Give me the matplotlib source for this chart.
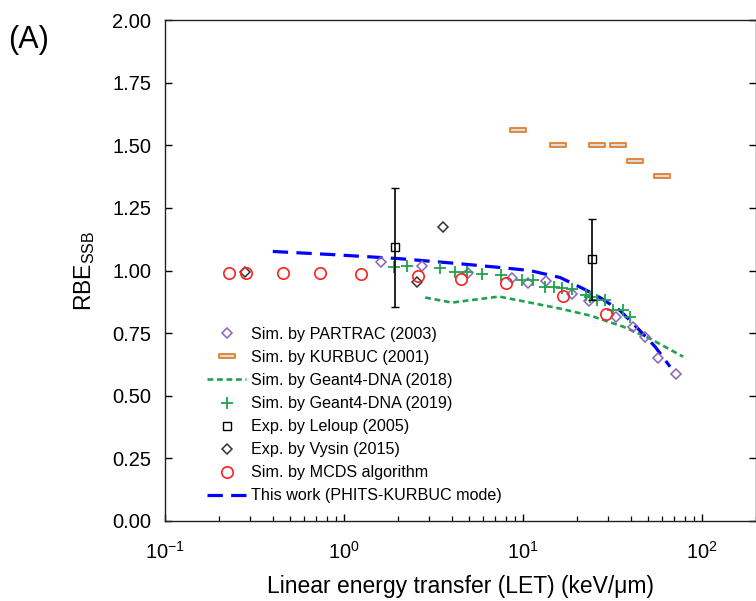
import matplotlib
matplotlib.use("Agg")
import matplotlib.pyplot as plt
from matplotlib.path import Path
from matplotlib.lines import Line2D
from matplotlib.ticker import LogLocator, FixedLocator, NullFormatter
import numpy as np

plt.rcParams['font.family'] = ['Liberation Sans', 'DejaVu Sans']
plt.rcParams['mathtext.fontset'] = 'custom'
plt.rcParams['mathtext.rm'] = 'Liberation Sans'
plt.rcParams['mathtext.it'] = 'Liberation Sans:italic'

# ---------------- data ----------------
partrac_let = [1.61, 2.73, 4.93, 8.69, 10.7, 13.4, 18.8, 23.4, 33.1, 41.2, 48.1, 56.8, 71.6]
partrac_rbe = [1.032, 1.016, 0.992, 0.972, 0.952, 0.960, 0.908, 0.880, 0.816, 0.776, 0.736, 0.652, 0.588]

kurbuc_let = [9.38, 15.7, 25.9, 34.0, 42.2, 59.8]
kurbuc_rbe = [1.56, 1.50, 1.50, 1.50, 1.436, 1.376]

g4_2018_let = [2.84, 4.01, 7.35, 10.9, 16.1, 23.7, 36.2, 51.2, 78.3]
g4_2018_rbe = [0.892, 0.872, 0.896, 0.872, 0.848, 0.820, 0.776, 0.728, 0.656]

g4_2019_let = [1.90, 2.25, 3.44, 4.17, 4.87, 5.90, 7.54, 9.87, 11.4, 13.3, 14.9, 16.5,
               18.8, 22.5, 23.7, 25.9, 28.7, 31.8, 36.2, 39.6]
g4_2019_rbe = [1.012, 1.016, 1.008, 0.996, 0.996, 0.988, 0.984, 0.964, 0.964, 0.936, 0.936, 0.932,
               0.928, 0.904, 0.896, 0.884, 0.884, 0.844, 0.844, 0.816]

leloup_let = [1.93, 24.3]
leloup_rbe = [1.092, 1.044]
leloup_err = [0.236, 0.16]

vysin_let = [0.28, 2.56, 3.57]
vysin_rbe = [0.996, 0.956, 1.172]

mcds_let = [0.228, 0.284, 0.456, 0.735, 1.245, 2.59, 4.50, 8.04, 16.7, 29.1]
mcds_rbe = [0.992, 0.992, 0.992, 0.992, 0.988, 0.980, 0.968, 0.952, 0.900, 0.828]

phits_let = [0.40, 0.835, 1.98, 4.28, 7.44, 10.9, 16.1, 21.6, 26.9, 34.8, 43.3, 54.6, 66.2]
phits_rbe = [1.076, 1.064, 1.048, 1.028, 1.012, 1.000, 0.972, 0.928, 0.892, 0.840, 0.772, 0.696, 0.616]

xticks = [0.1, 1, 10, 100]
xtick_labels = [r'$\mathregular{10^{-1}}$', r'$\mathregular{10^{0}}$',
                r'$\mathregular{10^{1}}$', r'$\mathregular{10^{2}}$']
yticks = [0.00, 0.25, 0.50, 0.75, 1.00, 1.25, 1.50, 1.75, 2.00]

# ---------------- figure ----------------
W, H = 756, 601
fig = plt.figure(figsize=(W / 100, H / 100), dpi=100)
ax = fig.add_axes([165 / W, (H - 521) / H, (756 - 165) / W, (521 - 20) / H])

purple = '#8a64b8'
orange = '#e0802c'
green = '#21a150'
red = '#ff2020'

bar = Path([(-1, -0.28), (1, -0.28), (1, 0.28), (-1, 0.28), (-1, -0.28)],
           [Path.MOVETO, Path.LINETO, Path.LINETO, Path.LINETO, Path.CLOSEPOLY])

h1, = ax.plot(partrac_let, partrac_rbe, ls='none', marker='D', ms=5.6, mfc='none',
              mec=purple, mew=1.1, label='Sim. by PARTRAC (2003)', zorder=4)
h2, = ax.plot(kurbuc_let, kurbuc_rbe, ls='none', marker=bar, ms=11.5, mfc='#dcdcdc',
              mec=orange, mew=1.3, label='Sim. by KURBUC (2001)', zorder=4)
h3, = ax.plot(g4_2018_let, g4_2018_rbe, ls=(0, (2.2, 1.4)), color=green, lw=1.9,
              label='Sim. by Geant4-DNA (2018)', zorder=3)
h4, = ax.plot(g4_2019_let, g4_2019_rbe, ls='none', marker='+', ms=8, mec=green, mew=1.3,
              label='Sim. by Geant4-DNA (2019)', zorder=4)
ax.errorbar(leloup_let, leloup_rbe, yerr=leloup_err, ls='none', marker='s', ms=5.5,
            mfc='none', mec='black', mew=1.0, ecolor='black', elinewidth=1.2,
            capsize=3, capthick=1.2, zorder=5)
h5 = Line2D([], [], ls='none', marker='s', ms=5.5, mfc='none', mec='black', mew=1.0,
            label='Exp. by Leloup (2005)')
h6, = ax.plot(vysin_let, vysin_rbe, ls='none', marker='D', ms=5.2, mfc='none',
              mec='#333333', mew=1.1, label='Exp. by Vysin (2015)', zorder=4)
h7, = ax.plot(mcds_let, mcds_rbe, ls='none', marker='o', ms=8.2, mfc='none',
              mec=red, mew=1.2, label='Sim. by MCDS algorithm', zorder=4)
h8, = ax.plot(phits_let, phits_rbe, ls=(0, (4.8, 2.6)), color='#0000ff', lw=2.3,
              label='This work (PHITS-KURBUC mode)', zorder=3)

ax.set_xscale('log')
ax.set_xlim(0.1, 200)
ax.set_ylim(0, 2.0)
ax.xaxis.set_major_locator(FixedLocator(xticks))
ax.set_xticklabels(xtick_labels)
ax.xaxis.set_minor_locator(LogLocator(base=10, subs=np.arange(2, 10), numticks=20))
ax.xaxis.set_minor_formatter(NullFormatter())
ax.set_yticks(yticks)
ax.set_yticklabels([f'{v:.2f}' for v in yticks])

ax.tick_params(axis='both', which='major', direction='in', labelsize=14.5,
               length=5, width=1, colors='black')
ax.tick_params(axis='y', right=True, pad=10)
ax.tick_params(axis='x', which='major', pad=14)
ax.tick_params(axis='x', which='minor', direction='in', length=3.5, width=0.9)
for s in ax.spines.values():
    s.set_linewidth(1.0)
    s.set_color('#222222')

ax.set_xlabel('Linear energy transfer (LET) (keV/\u03bcm)', fontsize=16.5, labelpad=9)
ax.set_ylabel(r'RBE$_\mathregular{SSB}$', fontsize=16.5, labelpad=11)

fig.text(8 / W, 1 - 40 / H, '(A)', fontsize=22, ha='left', va='center')

handles = [h1, h2, h3, h4, h5, h6, h7, h8]
leg = ax.legend(handles=handles, loc='upper left', bbox_to_anchor=(207 / W, 1 - 327 / H),
                bbox_transform=fig.transFigure, frameon=False, fontsize=11.6,
                handlelength=2.45, handletextpad=0.25, labelspacing=0.5,
                borderpad=0, borderaxespad=0, numpoints=1)

fig.savefig('out.png', dpi=100)
